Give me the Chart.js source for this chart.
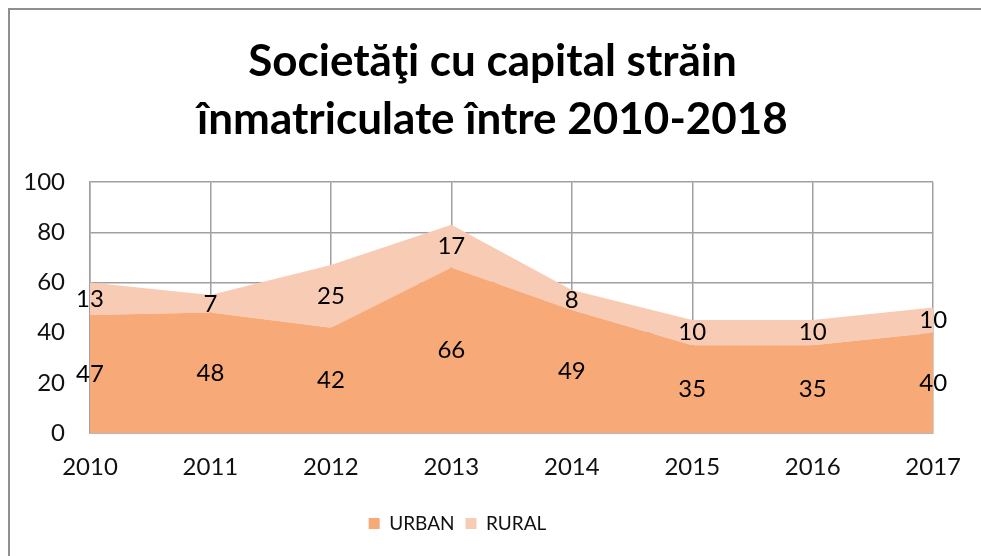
<!DOCTYPE html>
<html>
<head>
<meta charset="utf-8">
<script src="https://cdn.jsdelivr.net/npm/chart.js@4"></script>
<style>
  body { margin: 0; background: #fff; }
  #frame {
    position: absolute; left: 8px; top: 8px; width: 1000px; height: 600px;
    border-left: 2px solid #8f8f8f; border-top: 2px solid #8f8f8f;
  }
  #wrap { position: absolute; left: 0; top: 0; width: 981px; height: 556px; }
</style>
</head>
<body>
<div id="frame"></div>
<div id="wrap"><canvas id="area-chart" width="981" height="556"></canvas></div>
<script>
const years = ['2010', '2011', '2012', '2013', '2014', '2015', '2016', '2017'];
const urban = [47, 48, 42, 66, 49, 35, 35, 40];
const rural = [13, 7, 25, 17, 8, 10, 10, 10];
const yTicks = [0, 20, 40, 60, 80, 100];

const fontFamily = "Lato, 'Open Sans', sans-serif";

// writes each value in the middle of its band
const bandLabels = {
    id: 'bandLabels',
    afterDatasetsDraw(chart) {
        const ctx = chart.ctx;
        const yScale = chart.scales.y;
        ctx.save();
        ctx.font = "24px " + fontFamily;
        ctx.fillStyle = '#000';
        ctx.textAlign = 'center';
        ctx.textBaseline = 'middle';
        chart.data.datasets.forEach((ds, i) => {
            const meta = chart.getDatasetMeta(i);
            ds.data.forEach((v, j) => {
                let base = 0;
                for (let k = 0; k < i; k++) base += chart.data.datasets[k].data[j];
                const y = yScale.getPixelForValue(base + v / 2);
                ctx.fillText(String(v), meta.data[j].x, y);
            });
        });
        ctx.restore();
    }
};

// title sits a little right, legend a little left, as in the original
const boxShift = {
    id: 'boxShift',
    afterLayout(chart) {
        chart.titleBlock.left += 24;
        chart.titleBlock.right += 24;
        chart.legend.left -= 11;
        chart.legend.right -= 11;
    }
};

window.addEventListener('load', () => {
    const ctx = document.getElementById('area-chart').getContext('2d');
    new Chart(ctx, {
        type: 'line',
        data: {
            labels: years,
            datasets: [
                {
                    label: 'URBAN',
                    data: urban,
                    backgroundColor: '#F7A978',
                    borderWidth: 0,
                    pointRadius: 0,
                    fill: 'origin',
                },
                {
                    label: 'RURAL',
                    data: rural,
                    backgroundColor: '#F8CBB4',
                    borderWidth: 0,
                    pointRadius: 0,
                    fill: '-1',
                },
            ],
        },
        options: {
            responsive: false,
            animation: false,
            layout: { padding: { left: 0, right: 44, top: 0, bottom: 13 } },
            plugins: {
                title: {
                    display: true,
                    text: ['Societăţi cu capital străin', 'înmatriculate între 2010-2018'],
                    color: '#000',
                    font: { family: fontFamily, size: 44, weight: 'bold', lineHeight: 1.32 },
                    padding: { top: 33, bottom: 33 },
                },
                legend: {
                    position: 'bottom',
                    labels: {
                        color: '#111',
                        font: { family: fontFamily, size: 19 },
                        boxWidth: 11,
                        boxHeight: 11,
                        padding: 11,
                    },
                },
                tooltip: { enabled: false },
            },
            scales: {
                x: {
                    offset: false,
                    grid: { color: '#a0a0a0', lineWidth: 1.5, drawTicks: false },
                    border: { color: '#a0a0a0', width: 1.5 },
                    ticks: {
                        color: '#111',
                        font: { family: fontFamily, size: 24 },
                        padding: 20,
                        maxRotation: 0,
                    },
                    afterFit: (s) => { s.height = 70; },
                },
                y: {
                    stacked: true,
                    min: 0,
                    max: 100,
                    afterBuildTicks: (s) => { s.ticks = yTicks.map(v => ({ value: v })); },
                    grid: { color: '#a0a0a0', lineWidth: 1.5, drawTicks: false },
                    border: { color: '#a0a0a0', width: 1.5 },
                    ticks: {
                        color: '#111',
                        font: { family: fontFamily, size: 24 },
                        padding: 25,
                    },
                    afterFit: (s) => { s.width = 90; },
                },
            },
        },
        plugins: [bandLabels, boxShift],
    });
});
</script>
</body>
</html>
